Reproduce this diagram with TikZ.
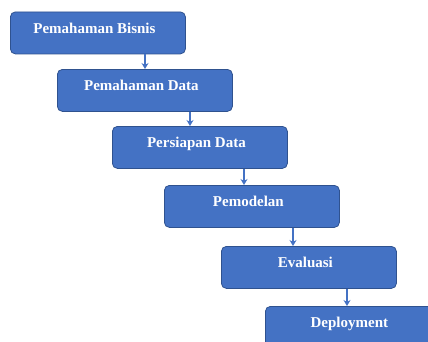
\documentclass[tikz,border=0pt]{standalone}
\usepackage{fontspec}
\setmainfont{Liberation Serif}
\usetikzlibrary{arrows.meta}
\definecolor{boxfill}{HTML}{4472C4}
\definecolor{boxline}{HTML}{2F528F}
\tikzset{
  stagebox/.style={draw=boxline, line width=0.8pt, fill=boxfill, rounded corners=5pt,
    minimum width=175pt, minimum height=42pt, anchor=north west, inner sep=0pt,
    text=white, font=\fontsize{15}{17}\selectfont\bfseries,
    text height=10pt, text depth=9pt, execute at end node={\hspace{7pt}}},
  flowarrow/.style={draw=boxfill, line width=1.1pt, -{Stealth[length=6pt,width=7pt]}}
}
\begin{document}
\begin{tikzpicture}[x=1pt,y=1pt]
\useasboundingbox (0,0) rectangle (428,-341);
\clip (0,0) rectangle (428,-341);
\node[stagebox] (b1) at (10,-11.5) {Pemahaman Bisnis};
\node[stagebox] (b2) at (57,-69) {Pemahaman Data};
\node[stagebox] (b3) at (112,-126) {Persiapan Data};
\node[stagebox] (b4) at (164,-185) {Pemodelan};
\node[stagebox] (b5) at (221,-246) {Evaluasi};
\node[stagebox] (b6) at (265,-306) {Deployment};
\coordinate (c1) at (145,0);
\coordinate (c2) at (190,0);
\coordinate (c3) at (244,0);
\coordinate (c4) at (293,0);
\coordinate (c5) at (347,0);
\draw[flowarrow] (b1.south -| c1) -- (b2.north -| c1);
\draw[flowarrow] (b2.south -| c2) -- (b3.north -| c2);
\draw[flowarrow] (b3.south -| c3) -- (b4.north -| c3);
\draw[flowarrow] (b4.south -| c4) -- (b5.north -| c4);
\draw[flowarrow] (b5.south -| c5) -- (b6.north -| c5);
\end{tikzpicture}
\end{document}
